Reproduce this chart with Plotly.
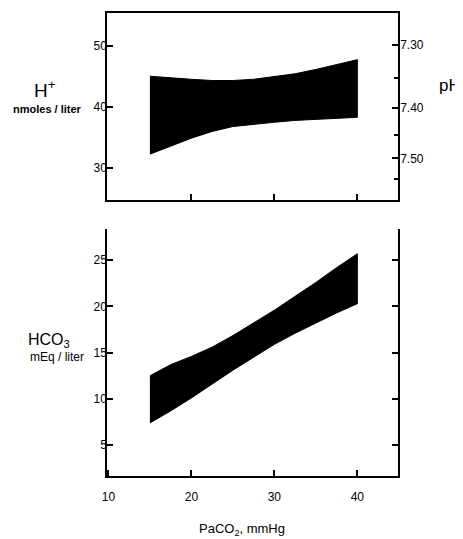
import plotly.graph_objects as go

# ---- data ----
paco2 = [15, 17.5, 20, 22.5, 25, 27.5, 30, 32.5, 35, 37.5, 40]
h_upper = [45.0, 44.7, 44.5, 44.3, 44.3, 44.5, 44.9, 45.4, 46.1, 46.9, 47.7]
h_lower = [32.3, 33.6, 34.9, 36.0, 36.8, 37.2, 37.5, 37.8, 38.0, 38.15, 38.3]
hco3_upper = [12.5, 13.7, 14.6, 15.6, 16.85, 18.2, 19.6, 21.1, 22.6, 24.2, 25.7]
hco3_lower = [7.4, 8.7, 10.1, 11.6, 13.1, 14.5, 15.9, 17.1, 18.2, 19.3, 20.3]

x_ticks = [10, 20, 30, 40]
h_ticks = [30, 40, 50]
ph_major = ["7.30", "7.40", "7.50"]
ph_minor = ["7.35", "7.45", "7.55"]
hco3_ticks = [5, 10, 15, 20, 25]

# pH scale expressed in H+ (nmol/L): H+ = 10^(9 - pH)
ph_major_pos = [10 ** (9 - float(p)) for p in ph_major]
ph_minor_pos = [10 ** (9 - float(p)) for p in ph_minor]

FONT = "Liberation Sans"
OFF = 8  # page body margin offset
W, H = 463 - OFF, 539 - OFF
# target screen geometry of the plot area
SL, SR, ST, SB = 107, 398, 11, 476
L, T = SL - OFF, ST - OFF
PW, PH = SR - SL, SB - ST
R, B = W - L - PW, H - T - PH


def px(x):
    return (x - SL) / PW


def py(y):
    return (SB - y) / PH


fig = go.Figure()
fig.add_trace(go.Scatter(
    x=paco2 + paco2[::-1], y=h_upper + h_lower[::-1],
    fill="toself", fillcolor="black", mode="lines",
    line=dict(color="black", width=1), xaxis="x", yaxis="y",
    hoverinfo="skip", showlegend=False))
fig.add_trace(go.Scatter(
    x=paco2, y=h_upper, mode="lines", line=dict(width=0, color="rgba(0,0,0,0)"),
    xaxis="x", yaxis="y3", hoverinfo="skip", showlegend=False))
fig.add_trace(go.Scatter(
    x=paco2 + paco2[::-1], y=hco3_upper + hco3_lower[::-1],
    fill="toself", fillcolor="black", mode="lines",
    line=dict(color="black", width=1), xaxis="x2", yaxis="y2",
    hoverinfo="skip", showlegend=False))

axis_common = dict(showline=True, linecolor="black", linewidth=1.5,
                   ticks="inside", tickcolor="black", tickwidth=1.5, ticklen=6,
                   showgrid=False, zeroline=False,
                   tickfont=dict(family=FONT, size=12, color="black"))

xr = [9.83, 44.9]
fig.update_layout(
    width=W, height=H,
    margin=dict(l=L, r=R, t=T, b=B, pad=0),
    paper_bgcolor="white", plot_bgcolor="white",
    showlegend=False,
    xaxis=dict(axis_common, domain=[0, 1], anchor="y", range=xr,
               tickmode="array", tickvals=x_ticks[1:], showticklabels=False,
               mirror=True),
    yaxis=dict(axis_common, domain=[py(199), 1], anchor="x", range=[24.8, 55.3],
               tickmode="array", tickvals=h_ticks, ticklabelstandoff=-4),
    yaxis3=dict(axis_common, overlaying="y", side="right", anchor="x",
                range=[24.8, 55.3], tickmode="array", tickvals=ph_major_pos,
                ticktext=ph_major, ticklabelstandoff=-2,
                minor=dict(tickmode="array", tickvals=ph_minor_pos,
                           ticks="inside", ticklen=4, tickwidth=1.5,
                           tickcolor="black", showgrid=False)),
    xaxis2=dict(axis_common, domain=[0, 1], anchor="y2", range=xr,
                tickmode="array", tickvals=x_ticks, ticklabelstandoff=9),
    yaxis2=dict(axis_common, domain=[0, py(228.3)], anchor="x2",
                range=[1.66, 28.34], tickmode="array", tickvals=hco3_ticks,
                mirror="ticks", ticklabelstandoff=-4),
)

ann = [
    dict(text="H<sup>+</sup>", x=px(45), y=py(87), size=19, anchor="center"),
    dict(text="<b>nmoles / liter</b>", x=px(47), y=py(107), size=11, anchor="center"),
    dict(text="pH", x=px(463), y=py(84), size=17, anchor="right"),
    dict(text="HCO<sub>3</sub>", x=px(49), y=py(340), size=16, anchor="center"),
    dict(text="mEq / liter", x=px(57), y=py(356), size=12, anchor="center"),
    dict(text="PaCO<sub>2</sub>, mmHg", x=px(242), y=py(530), size=13, anchor="center"),
]
for a in ann:
    fig.add_annotation(text=a["text"], x=a["x"], y=a["y"], xref="paper",
                       yref="paper", showarrow=False, xanchor=a["anchor"],
                       yanchor="middle",
                       font=dict(family=FONT, size=a["size"], color="black"))

fig.write_html("out.html")
